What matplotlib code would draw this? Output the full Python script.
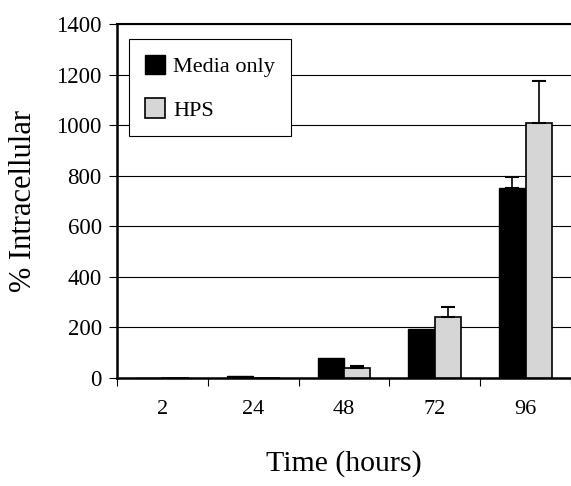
import matplotlib
matplotlib.use("Agg")
import matplotlib.pyplot as plt
import numpy as np

categories = ["2", "24", "48", "72", "96"]
media_only = [0, 6, 80, 194, 752]
media_err = [0, 0, 0, 0, 43]
hps = [0, 1, 40, 241, 1008]
hps_err = [0, 0, 7, 40, 167]

plt.rcParams['font.family'] = ['Liberation Serif', 'DejaVu Serif']

fig = plt.figure(figsize=(5.71, 4.86), dpi=100)
ax = fig.add_axes([117/571, 1-378/486, 1-117/571, (378-24)/486])

x = np.arange(len(categories))
w = 0.29
ax.bar(x - w/2, media_only, w, color='black', edgecolor='black', linewidth=1,
       label='Media only', zorder=3)
ax.bar(x + w/2, hps, w, color='#d6d6d6', edgecolor='black', linewidth=1.2,
       label='HPS', zorder=3)
for xi, v, e in zip(x, media_only, media_err):
    if e > 0:
        ax.errorbar(xi - w/2, v, yerr=[[0], [e]], color='black', capsize=5,
                    elinewidth=1.2, capthick=1.5, zorder=4)
for xi, v, e in zip(x, hps, hps_err):
    if e > 0:
        ax.errorbar(xi + w/2, v, yerr=[[0], [e]], color='black', capsize=5,
                    elinewidth=1.2, capthick=1.5, zorder=4)

ax.set_ylim(0, 1400)
ax.set_xlim(-0.5, -0.5 + (571-117)/93)
ax.set_yticks(range(0, 1401, 200))
ax.yaxis.grid(True, color='black', linewidth=0.8)
ax.set_axisbelow(True)
ax.tick_params(axis='y', direction='out', length=6, width=0.8, labelsize=16.5, pad=5)

ax.set_xticks(x)
ax.set_xticklabels(categories)
ax.tick_params(axis='x', which='major', length=0, labelsize=16, pad=16)
ax.set_xticks(np.arange(-0.5, len(categories), 1), minor=True)
ax.tick_params(axis='x', which='minor', direction='out', length=6, width=0.8)

for s in ['left', 'bottom']:
    ax.spines[s].set_linewidth(1.8)
ax.spines['top'].set_linewidth(1.5)
ax.spines['right'].set_visible(False)

ax.set_ylabel('% Intracellular', fontsize=22, labelpad=13)
ax.set_xlabel('Time (hours)', fontsize=21.5, labelpad=22)

leg = ax.legend(loc='upper left', bbox_to_anchor=(12/454, (378-39)/354), fontsize=16,
                frameon=True, fancybox=False, edgecolor='black', framealpha=1,
                handlelength=0.9, handleheight=1.0, handletextpad=0.4,
                labelspacing=0.95, borderpad=0.7, borderaxespad=0)
leg.get_frame().set_linewidth(0.8)

fig.savefig("out.png", dpi=100)
